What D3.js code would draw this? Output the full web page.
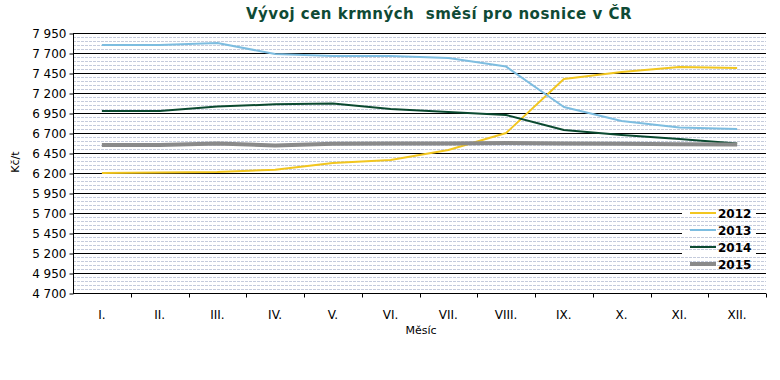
<html>
<style>
    body { margin: 0; background: #fff; }
    text { font-family: "DejaVu Sans", Verdana, sans-serif; }
</style>
<svg width="780" height="380"></svg>
<script src="https://d3js.org/d3.v7.min.js"></script>
<script>
    // data (Kč/t)
    var months = ["I.", "II.", "III.", "IV.", "V.", "VI.", "VII.", "VIII.", "IX.", "X.", "XI.", "XII."];
    var years = ["2012", "2013", "2014", "2015"];
    var v2012 = [6200, 6205, 6212, 6240, 6325, 6362, 6487, 6700, 7375, 7462, 7525, 7512];
    var v2013 = [7800, 7800, 7825, 7687, 7662, 7662, 7637, 7530, 7025, 6850, 6770, 6750];
    var v2014 = [6975, 6975, 7030, 7058, 7070, 7000, 6962, 6925, 6737, 6675, 6625, 6570];
    var v2015 = [6550, 6550, 6570, 6545, 6565, 6570, 6570, 6575, 6570, 6565, 6560, 6555];
    var yTicks = [4700, 4950, 5200, 5450, 5700, 5950, 6200, 6450, 6700, 6950, 7200, 7450, 7700, 7950];

    var series = [
        { name: years[0], values: v2012, color: "#f2c61f", width: 2 },
        { name: years[1], values: v2013, color: "#7dbde0", width: 2 },
        { name: years[2], values: v2014, color: "#0b4a30", width: 2 },
        { name: years[3], values: v2015, color: "#8a8a8a", width: 4 }
    ];

    var svg = d3.select("svg");
    var pLeft = 73, pRight = 766, pTop = 33, pBottom = 293;

    var x = d3.scaleBand().domain(months).range([pLeft, pRight]);
    var y = d3.scaleLinear().domain([4700, 7950]).range([pBottom, pTop]);

    // major grid
    svg.append("g").selectAll("line").data(yTicks.slice(1)).enter().append("line")
        .attr("x1", pLeft).attr("x2", pRight)
        .attr("y1", d => Math.round(y(d)) + 0.5).attr("y2", d => Math.round(y(d)) + 0.5)
        .attr("stroke", "#000").attr("stroke-width", 1);

    // legend background hides the black lines only
    var lgX = 690, lgY = 213;
    svg.append("rect").attr("x", lgX - 8).attr("y", lgY - 9).attr("width", 74).attr("height", 60)
        .attr("fill", "#fff");

    // minor dashed grid every 50
    var minor = d3.range(4750, 7950, 50).filter(v => (v - 4700) % 250 != 0);
    svg.append("g").selectAll("line").data(minor).enter().append("line")
        .attr("x1", pLeft).attr("x2", pRight)
        .attr("y1", d => Math.round(y(d)) + 0.5).attr("y2", d => Math.round(y(d)) + 0.5)
        .attr("stroke", "#c4cbdc").attr("stroke-width", 1).attr("stroke-dasharray", "3,1");

    // title
    svg.append("text")
        .attr("x", 439).attr("y", 19)
        .attr("text-anchor", "middle")
        .style("white-space", "pre")
        .style("letter-spacing", "0.5px")
        .attr("font-size", "15px").attr("font-weight", "bold")
        .attr("fill", "#0f4a35")
        .text("Vývoj cen krmných  směsí pro nosnice v ČR");

    // y axis
    var yAxis = d3.axisLeft(y).tickValues(yTicks).tickSize(4)
        .tickFormat(d => d3.format(",")(d).replace(",", " "));
    var gy = svg.append("g").attr("transform", "translate(" + (pLeft + 0.5) + ",0.5)").call(yAxis);
    gy.selectAll("text").attr("font-size", "12px").attr("fill", "#000").attr("x", -7)
        .style("font-family", "'DejaVu Sans', Verdana, sans-serif");
    gy.selectAll("line,path").attr("stroke", "#000");
    gy.select(".domain").attr("d", "M0," + pTop + "V" + pBottom);

    // x axis
    var gx = svg.append("g").attr("transform", "translate(0," + (pBottom + 0.5) + ")");
    gx.append("line").attr("x1", pLeft).attr("x2", pRight).attr("stroke", "#000");
    gx.selectAll(".tk").data(months).enter().append("line")
        .attr("x1", d => Math.round(x(d) + x.bandwidth()) + 0.5)
        .attr("x2", d => Math.round(x(d) + x.bandwidth()) + 0.5)
        .attr("y1", 0).attr("y2", 4).attr("stroke", "#000");
    gx.selectAll("text").data(months).enter().append("text")
        .attr("x", d => x(d) + x.bandwidth() / 2)
        .attr("y", 25)
        .attr("text-anchor", "middle")
        .attr("font-size", "12px").attr("fill", "#000")
        .text(d => d);

    // axis titles
    svg.append("text").attr("x", 421).attr("y", 334).attr("text-anchor", "middle")
        .attr("font-size", "11px").text("Měsíc");
    svg.append("text").attr("transform", "translate(19,162) rotate(-90)")
        .attr("text-anchor", "middle").attr("font-size", "11px").text("Kč/t");

    // lines
    var line = d3.line()
        .x((d, i) => x(months[i]) + x.bandwidth() / 2)
        .y(d => y(d));
    svg.append("g").selectAll("path").data(series).enter().append("path")
        .attr("d", d => line(d.values))
        .attr("fill", "none")
        .attr("stroke", d => d.color)
        .attr("stroke-width", d => d.width)
        .attr("stroke-linejoin", "round");

    // legend
    var lg = svg.append("g").attr("transform", "translate(" + lgX + "," + lgY + ")");
    var item = lg.selectAll(".it").data(series).enter().append("g")
        .attr("transform", (d, i) => "translate(0," + (i * 17) + ")");
    item.append("line").attr("x1", 0).attr("x2", 26).attr("y1", 0).attr("y2", 0)
        .attr("stroke", d => d.color).attr("stroke-width", d => d.width);
    item.append("text").attr("x", 28).attr("y", 4.5)
        .attr("font-size", "12px").attr("font-weight", "bold").text(d => d.name);
</script>
</html>
